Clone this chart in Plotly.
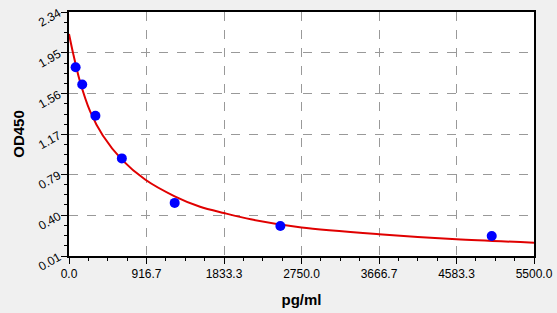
import plotly.graph_objects as go

# Standards (pg/ml) and measured OD450
std_conc = [78.125, 156.25, 312.5, 625, 1250, 2500, 5000]
std_od = [1.813, 1.647, 1.35, 0.942, 0.517, 0.297, 0.201]

# Fitted curve
curve_x = [0, 50, 125, 250, 400, 625, 900, 1250, 1550, 1833, 2150, 2750, 3667, 4583, 5500]
curve_y = [2.13, 1.94, 1.69, 1.39, 1.16, 0.93, 0.74, 0.58, 0.48, 0.42, 0.36, 0.282, 0.218, 0.17, 0.137]

x_ticks = [0.0, 916.7, 1833.3, 2750.0, 3666.7, 4583.3, 5500.0]
x_labels = ["0.0", "916.7", "1833.3", "2750.0", "3666.7", "4583.3", "5500.0"]
y_ticks = [0.01, 0.40, 0.79, 1.17, 1.56, 1.95, 2.34]
y_labels = ["0.01", "0.40", "0.79", "1.17", "1.56", "1.95", "2.34"]

X_RANGE = [0, 5500]
Y_RANGE = [0.01, 2.34]
W, H = 557, 313
X_DOM = [69 / W, 534 / W]
Y_DOM = [(H - 256) / H, (H - 12) / H]


def minors(major):
    out = []
    for a, b in zip(major[:-1], major[1:]):
        step = (b - a) / 4
        out += [a + step * k for k in (1, 2, 3)]
    return out


fig = go.Figure()
fig.add_trace(go.Scatter(x=curve_x, y=curve_y, mode="lines",
                         line=dict(color="#e00000", width=2, shape="spline", smoothing=0.8),
                         hoverinfo="skip", showlegend=False))
fig.add_trace(go.Scatter(x=std_conc, y=std_od, mode="markers",
                         marker=dict(color="#0000ff", size=10, line=dict(width=0)),
                         showlegend=False))
fig.add_trace(go.Scatter(x=[None], y=[None], xaxis="x2", yaxis="y2",
                         mode="markers", showlegend=False, hoverinfo="skip"))

tickfont = dict(family="Liberation Sans, Arial", size=12, color="black")
titlefont = dict(family="Liberation Sans, Arial", size=15, color="black")
axis_common = dict(
    showline=True, linecolor="black", linewidth=1.5, mirror=True,
    ticks="outside", ticklen=6, tickcolor="black", tickwidth=1,
    showgrid=True, gridcolor="#999999", griddash="dash", gridwidth=1,
    zeroline=False, tickfont=tickfont, automargin=False,
)
minor_common = dict(ticks="outside", ticklen=4, tickcolor="black", tickwidth=1,
                    showgrid=False, showline=False, zeroline=False,
                    showticklabels=False, fixedrange=True, automargin=False)

fig.update_layout(
    width=W, height=H,
    margin=dict(l=0, r=0, t=0, b=0, pad=0, autoexpand=False),
    paper_bgcolor="#f0f0f0", plot_bgcolor="white",
    xaxis=dict(range=X_RANGE, domain=X_DOM, tickvals=x_ticks, ticktext=x_labels,
               title=dict(text="<b>pg/ml</b>", font=titlefont, standoff=14),
               **axis_common),
    yaxis=dict(range=Y_RANGE, domain=Y_DOM, tickvals=y_ticks, ticktext=y_labels, tickangle=-30,
               title=dict(text="<b>OD450</b>", font=titlefont, standoff=8),
               **axis_common),
    xaxis2=dict(range=X_RANGE, domain=X_DOM, tickvals=minors(x_ticks), overlaying="x",
                anchor="y2", side="bottom", **minor_common),
    yaxis2=dict(range=Y_RANGE, domain=Y_DOM, tickvals=minors(y_ticks), overlaying="y",
                anchor="x2", side="left", **minor_common),
)
fig.write_html("out.html")
